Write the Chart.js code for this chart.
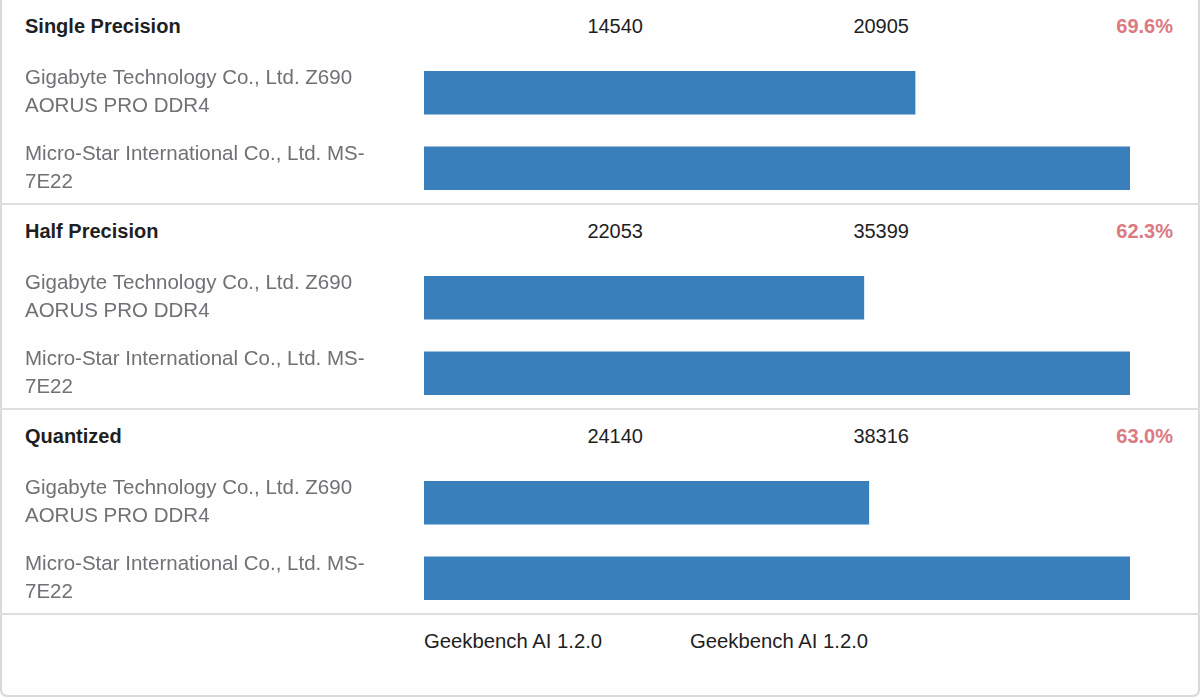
<!DOCTYPE html>
<html>
<head>
<meta charset="utf-8">
<script src="https://cdn.jsdelivr.net/npm/chart.js@4"></script>
<style>
  html, body { margin: 0; padding: 0; background: #ffffff; }
  body { width: 1200px; height: 697px; position: relative; overflow: hidden;
         font-family: "Liberation Sans", Arial, Helvetica, sans-serif; }
  #card { position: absolute; left: 0; top: -12px; width: 1200px; height: 709px;
          box-sizing: border-box; border: 2px solid #d9d9d9; border-radius: 7px; background: #fefefe; }
  .divider { position: absolute; left: 0; width: 1200px; height: 2px; background: #dedede; }
  .txt { position: absolute; font-size: 20px; line-height: 24px; white-space: nowrap; color: #1f1f22; }
  .head { font-weight: bold; }
  .num { text-align: right; width: 200px; }
  .foot { font-size: 20.3px; }
  .pct { color: #dc7a82; font-weight: bold; text-align: right; width: 200px; }
  canvas { position: absolute; left: 0; }
</style>
</head>
<body>
<div id="card"></div>
<div id="root"></div>
<script>
// ---- data ----
const sections = ["Single Precision", "Half Precision", "Quantized"];
const deviceLabels = [
  ["Gigabyte Technology Co., Ltd. Z690", "AORUS PRO DDR4"],
  ["Micro-Star International Co., Ltd. MS-", "7E22"]
];
const gigabyteScores = [14540, 22053, 24140];
const msiScores = [20905, 35399, 38316];
const percentLabels = ["69.6%", "62.3%", "63.0%"];
const footerLabels = ["Geekbench AI 1.2.0", "Geekbench AI 1.2.0"];

const barColor = "#387fbb";
const fontFamily = '"Liberation Sans", Arial, Helvetica, sans-serif';
const SECTION_H = 205;

const root = document.getElementById("root");
function addText(cls, text, left, top) {
  const d = document.createElement("div");
  d.className = "txt " + cls;
  d.textContent = text;
  d.style.left = left + "px";
  d.style.top = top + "px";
  root.appendChild(d);
  return d;
}

sections.forEach((name, i) => {
  const top = i * SECTION_H;
  addText("head", name, 25, top + 14);
  addText("num", String(gigabyteScores[i]), 443, top + 14);
  addText("num", String(msiScores[i]), 709, top + 14);
  addText("pct", percentLabels[i], 973, top + 14);

  const div = document.createElement("div");
  div.className = "divider";
  div.style.top = (top + 203) + "px";
  root.appendChild(div);

  const cv = document.createElement("canvas");
  cv.width = 1200; cv.height = 151;
  cv.style.top = (top + 55) + "px";
  cv.style.width = "1200px"; cv.style.height = "151px";
  root.appendChild(cv);

  new Chart(cv, {
    type: "bar",
    data: {
      labels: deviceLabels,
      datasets: [{
        data: [gigabyteScores[i], msiScores[i]],
        backgroundColor: barColor,
        borderWidth: 0,
        barThickness: 43
      }]
    },
    options: {
      indexAxis: "y",
      responsive: false,
      animation: false,
      events: [],
      layout: { padding: { left: 25, right: 70, top: 0, bottom: 0 } },
      plugins: { legend: { display: false }, tooltip: { enabled: false } },
      scales: {
        x: { display: false, min: 0, max: Math.max(gigabyteScores[i], msiScores[i]) },
        y: {
          grid: { display: false },
          border: { display: false },
          ticks: {
            crossAlign: "far",
            padding: 0,
            autoSkip: false,
            color: "#707075",
            font: { family: fontFamily, size: 20.5, lineHeight: 1.37 }
          },
          afterFit(scale) {
            scale.width = 399;
            scale.paddingTop = 0;
            scale.paddingBottom = 0;
          }
        }
      }
    }
  });
});

addText("foot", footerLabels[0], 424, 629);
addText("foot", footerLabels[1], 690, 629);
</script>
</body>
</html>
